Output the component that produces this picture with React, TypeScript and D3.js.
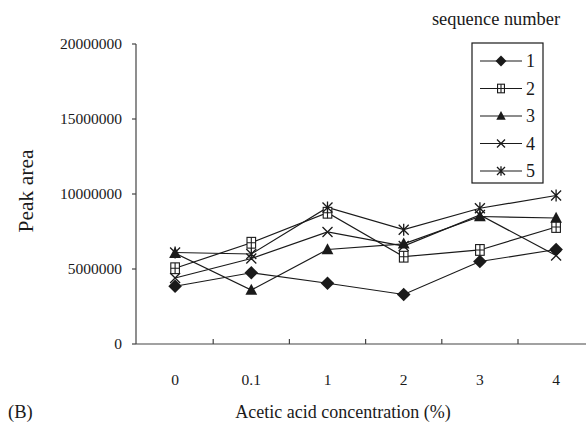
import React from "react";
import * as d3 from "d3";

const categories = ["0", "0.1", "1", "2", "3", "4"];
const seriesNames = ["1", "2", "3", "4", "5"];
const seq1 = [3.85e6, 4.75e6, 4.05e6, 3.3e6, 5.5e6, 6.3e6];
const seq2 = [5.05e6, 6.75e6, 8.75e6, 5.82e6, 6.27e6, 7.8e6];
const seq3 = [6.05e6, 3.6e6, 6.3e6, 6.68e6, 8.5e6, 8.4e6];
const seq4 = [4.4e6, 5.7e6, 7.47e6, 6.53e6, 8.6e6, 5.9e6];
const seq5 = [6.1e6, 6.0e6, 9.1e6, 7.62e6, 9.05e6, 9.9e6];
const yTicks = [0, 5000000, 10000000, 15000000, 20000000];
const allSeries = [seq1, seq2, seq3, seq4, seq5];
const markerTypes = ["diamond", "square", "triangle", "x", "star"];

const FONT = "'Liberation Serif', 'Times New Roman', serif";
const INK = "#1a1a1a";

function Marker({ type, x, y, s = 1 }: { type: string; x: number; y: number; s?: number }) {
  if (type === "diamond") {
    const r = 6.8 * s;
    return <path d={`M${x},${y - r}L${x + r},${y}L${x},${y + r}L${x - r},${y}Z`} fill={INK} />;
  }
  if (type === "square") {
    const r = 4.3 * s;
    return (
      <g stroke={INK} strokeWidth={1.1} fill="#fff">
        <rect x={x - r} y={y - r * 1.25} width={2 * r} height={2.5 * r} />
        <path d={`M${x},${y - r * 1.25}V${y + r * 1.25}M${x - r},${y}H${x + r}`} fill="none" />
      </g>
    );
  }
  if (type === "triangle") {
    const r = 6.2 * s;
    return <path d={`M${x},${y - r}L${x + r * 0.95},${y + r * 0.75}L${x - r * 0.95},${y + r * 0.75}Z`} fill={INK} />;
  }
  if (type === "x") {
    const r = 5 * s;
    return (
      <path d={`M${x - r},${y - r}L${x + r},${y + r}M${x - r},${y + r}L${x + r},${y - r}`} stroke={INK} strokeWidth={1.3} fill="none" />
    );
  }
  const r = 5 * s;
  return (
    <path
      d={`M${x - r},${y - r}L${x + r},${y + r}M${x - r},${y + r}L${x + r},${y - r}M${x},${y - r * 1.2}V${y + r * 1.2}`}
      stroke={INK}
      strokeWidth={1.3}
      fill="none"
    />
  );
}

export default function App() {
  const W = 586;
  const H = 429;
  const x0 = 137;
  const bw = 76.2;
  const x = d3.scaleBand<string>().domain(categories).range([x0, x0 + bw * categories.length]);
  const y = d3.scaleLinear().domain([0, 20000000]).range([344, 44]);
  const cx = (c: string) => (x(c) as number) + x.bandwidth() / 2;
  const line = d3
    .line<number>()
    .x((_, i) => cx(categories[i]))
    .y((d) => y(d));

  const legX = 472;
  const legY = 43;
  const legStep = 27.5;

  return (
    <svg
      width={W}
      height={H}
      style={{ position: "absolute", left: 0, top: 0, background: "#fff" }}
      fontFamily={FONT}
    >
      <rect width={W} height={H} fill="#fff" />
      {/* y axis */}
      <line x1={136} x2={136} y1={y(20000000)} y2={y(0)} stroke="#444" strokeWidth={1.2} />
      {yTicks.map((t) => (
        <g key={t}>
          <line x1={132} x2={136} y1={y(t)} y2={y(t)} stroke="#444" strokeWidth={1.2} />
          <text x={122} y={y(t)} dy="0.35em" textAnchor="end" fontSize={15.5} fill={INK}>
            {t}
          </text>
        </g>
      ))}
      {/* x axis */}
      <line x1={136} x2={W} y1={y(0)} y2={y(0)} stroke="#444" strokeWidth={1.2} />
      {categories.slice(1).map((c) => (
        <line key={c} x1={x(c) as number} x2={x(c) as number} y1={y(0)} y2={y(0) - 5} stroke="#444" strokeWidth={1.2} />
      ))}
      {categories.map((c) => (
        <text key={c} x={cx(c)} y={380} dy="0.35em" textAnchor="middle" fontSize={15.5} fill={INK}>
          {c}
        </text>
      ))}
      <text x={25} y={191} transform="rotate(-90 25 191)" textAnchor="middle" dy="0.35em" fontSize={21.5} fill={INK}>
        Peak area
      </text>
      <text x={343} y={418} textAnchor="middle" fontSize={18} fill={INK}>
        Acetic acid concentration (%)
      </text>
      <text x={8} y={418} fontSize={18.5} fill={INK}>
        (B)
      </text>
      {/* lines */}
      {allSeries.map((s, i) => (
        <path key={i} d={line(s) as string} fill="none" stroke={INK} strokeWidth={1.2} />
      ))}
      {allSeries.map((s, i) =>
        s.map((v, j) => <Marker key={`${i}-${j}`} type={markerTypes[i]} x={cx(categories[j])} y={y(v)} />)
      )}
      {/* legend */}
      <text x={496} y={25} textAnchor="middle" fontSize={18.4} fill={INK}>
        sequence number
      </text>
      <rect x={legX} y={legY} width={71} height={140} fill="#fff" stroke={INK} strokeWidth={1.2} />
      {seriesNames.map((n, i) => {
        const ly = legY + 18 + i * legStep;
        return (
          <g key={n}>
            <line x1={480} x2={522} y1={ly} y2={ly} stroke={INK} strokeWidth={1.2} />
            <Marker type={markerTypes[i]} x={501} y={ly} s={0.8} />
            <text x={526} y={ly} dy="0.35em" fontSize={18} fill={INK}>
              {n}
            </text>
          </g>
        );
      })}
    </svg>
  );
}
